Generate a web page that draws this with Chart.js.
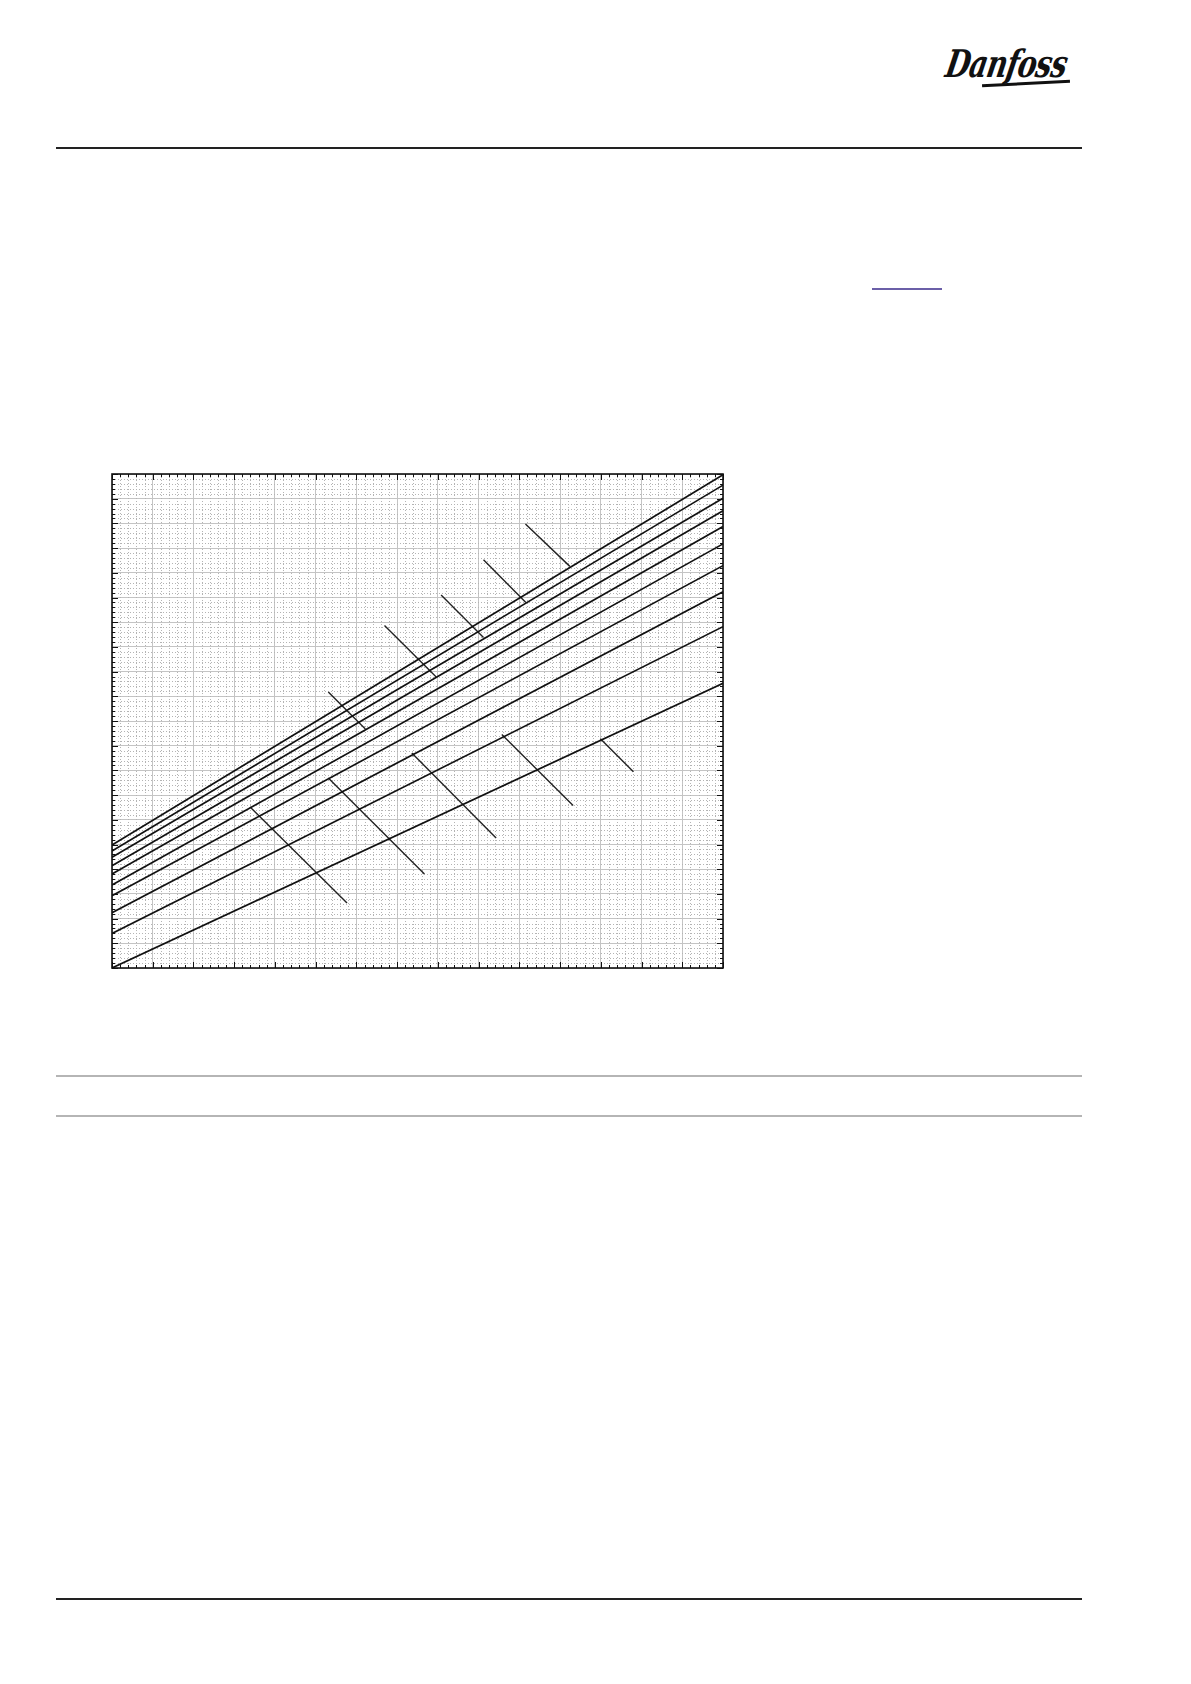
<!DOCTYPE html>
<html>
<head>
<meta charset="utf-8">
<script src="https://cdn.jsdelivr.net/npm/chart.js@4/dist/chart.umd.min.js"></script>
<style>
  html,body{margin:0;padding:0;background:#fff;}
  body{width:1191px;height:1684px;position:relative;overflow:hidden;font-family:"Liberation Sans",Arial,sans-serif;}
  .rule{position:absolute;left:56px;width:1026px;}
  #logo{position:absolute;left:950px;top:44px;font-family:"DejaVu Serif",serif;font-style:italic;font-weight:bold;
        font-size:38px;line-height:40px;letter-spacing:-1px;color:#111;transform-origin:0 0;transform:scaleX(0.74) skewX(-14deg);}
  #swoosh{position:absolute;left:982px;top:82px;width:88px;height:3px;background:#111;transform:rotate(-3deg);}
  #link{position:absolute;left:872px;top:288px;width:70px;height:2px;background:#6b5fa8;}
  #wrap{position:absolute;left:92px;top:454px;width:651px;height:534px;}
</style>
</head>
<body>
<div id="logo">Danfoss</div>
<div id="swoosh"></div>
<div class="rule" style="top:147px;height:2px;background:#222;"></div>
<div id="link"></div>
<div class="rule" style="top:1075px;height:2px;background:#b5b5b5;"></div>
<div class="rule" style="top:1115px;height:2px;background:#b5b5b5;"></div>
<div class="rule" style="top:1598px;height:2px;background:#222;"></div>
<div id="wrap"><canvas id="c"></canvas></div>
<script>
/* axis ranges (major / minor units) */
const X_MIN = 0, X_MAX = 15, Y_MIN = 0, Y_MAX = 20;
const MINOR = 0.2;

/* ten straight characteristic lines, read at the left and right frame edges */
const curveStartY = [4.98, 4.74, 4.48, 4.14, 3.81, 3.36, 2.93, 2.24, 1.40, 0.00];
const curveEndY   = [19.97, 19.55, 19.02, 18.51, 17.87, 17.17, 16.29, 15.23, 13.82, 11.53];

/* leader lines pointing at each curve (labels removed) */
const leadX0 = [10.15, 9.12, 8.08, 6.69, 5.31, 3.39, 5.31, 7.36, 9.57, 11.99];
const leadY0 = [17.98, 16.53, 15.10, 13.87, 11.17, 6.52, 7.69, 8.70, 9.45, 9.28];
const leadX1 = [11.24, 10.16, 9.12, 7.96, 6.22, 5.77, 7.67, 9.43, 11.32, 12.80];
const leadY1 = [16.26, 14.80, 13.38, 11.78, 9.68, 2.63, 3.81, 5.26, 6.58, 7.95];

const isMajor = v => Math.abs(v - Math.round(v)) < 1e-6;
const gridColor = ctx => isMajor(ctx.tick.value) ? "#c4c4c4" : "rgba(0,0,0,0)";

const datasets = [];
curveStartY.forEach((y0, i) => {
  datasets.push({ data:[{x:X_MIN,y:y0},{x:X_MAX,y:curveEndY[i]}],
    borderColor:"#111", borderWidth:1.7, pointRadius:0 });
});
leadX0.forEach((x0, i) => {
  datasets.push({ data:[{x:x0,y:leadY0[i]},{x:leadX1[i],y:leadY1[i]}],
    borderColor:"#222", borderWidth:1.4, pointRadius:0 });
});

/* dotted minor grid */
const minorGrid = {
  id:"minorGrid",
  beforeDatasetsDraw(chart){
    const {ctx, chartArea:a, scales:{x, y}} = chart;
    ctx.save();
    ctx.strokeStyle = "#b4b4b4";
    ctx.lineWidth = 1;
    ctx.setLineDash([1, 2]);
    ctx.beginPath();
    x.ticks.forEach(t => {
      if (isMajor(t.value)) return;
      const px = Math.round(x.getPixelForValue(t.value)) + 0.5;
      ctx.moveTo(px, a.top); ctx.lineTo(px, a.bottom);
    });
    y.ticks.forEach(t => {
      if (isMajor(t.value)) return;
      const py = Math.round(y.getPixelForValue(t.value)) + 0.5;
      ctx.moveTo(a.left, py); ctx.lineTo(a.right, py);
    });
    ctx.stroke();
    ctx.restore();
  }
};

/* frame with inward ticks on all four sides */
const frame = {
  id:"frame",
  afterDatasetsDraw(chart){
    const {ctx, chartArea:a, scales:{x, y}} = chart;
    ctx.save();
    ctx.strokeStyle = "#111";
    ctx.lineWidth = 1;
    ctx.beginPath();
    x.ticks.forEach(t => {
      const px = Math.round(x.getPixelForValue(t.value)) + 0.5;
      const len = isMajor(t.value) ? 6 : 3;
      ctx.moveTo(px, a.top); ctx.lineTo(px, a.top + len);
      ctx.moveTo(px, a.bottom); ctx.lineTo(px, a.bottom - len);
    });
    y.ticks.forEach(t => {
      const py = Math.round(y.getPixelForValue(t.value)) + 0.5;
      const len = isMajor(t.value) ? 6 : 3;
      ctx.moveTo(a.left, py); ctx.lineTo(a.left + len, py);
      ctx.moveTo(a.right, py); ctx.lineTo(a.right - len, py);
    });
    ctx.stroke();
    ctx.lineWidth = 1.6;
    ctx.strokeRect(a.left, a.top, a.right - a.left, a.bottom - a.top);
    ctx.restore();
  }
};

new Chart(document.getElementById("c"), {
  type:"line",
  data:{ datasets },
  options:{
    responsive:true, maintainAspectRatio:false, animation:false,
    layout:{ padding:20 },
    plugins:{ legend:{display:false}, tooltip:{enabled:false} },
    scales:{
      x:{ type:"linear", min:X_MIN, max:X_MAX,
          ticks:{ display:false, stepSize:MINOR, autoSkip:false },
          grid:{ color:gridColor, lineWidth:1, drawTicks:false },
          border:{ display:false },
          afterFit: s => { s.height = 0; } },
      y:{ type:"linear", min:Y_MIN, max:Y_MAX,
          ticks:{ display:false, stepSize:MINOR, autoSkip:false },
          grid:{ color:gridColor, lineWidth:1, drawTicks:false },
          border:{ display:false },
          afterFit: s => { s.width = 0; } }
    }
  },
  plugins:[minorGrid, frame]
});
</script>
</body>
</html>
